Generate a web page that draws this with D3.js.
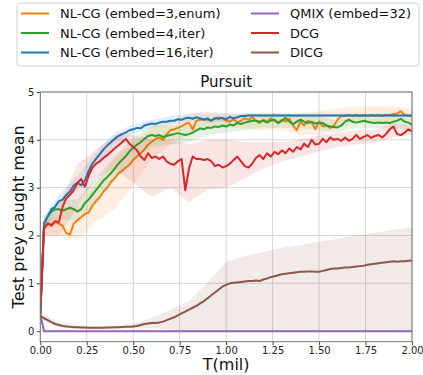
<!DOCTYPE html>
<html><head><meta charset="utf-8">
<script src="https://cdn.jsdelivr.net/npm/d3@7"></script>
<style>
body{margin:0;background:#fff}
svg{display:block;font-family:"DejaVu Sans",sans-serif}
</style>
</head><body><div id="chart"></div>
<script>
// x positions of the main curves (every 0.02 mil steps)
var T = d3.range(0, 101).map(function(i){ return i/50; });

var nlcg3 = [
  0.35,2.15,2.25,2.2,2.28,2.25,2.2,2.05,2.02,2.25,
  2.32,2.38,2.45,2.48,2.62,2.72,2.8,2.92,3.0,3.12,
  3.2,3.3,3.35,3.42,3.48,3.58,3.65,3.72,3.8,3.9,
  3.96,4.02,4.05,4.0,4.12,4.2,4.22,4.25,4.28,4.33,
  4.36,4.22,4.4,4.42,4.43,4.42,4.4,4.45,4.47,4.45,
  4.4,4.38,4.43,4.36,4.4,4.45,4.42,4.47,4.4,4.35,
  4.42,4.38,4.45,4.4,4.36,4.42,4.38,4.44,4.3,4.2,
  4.38,4.3,4.4,4.36,4.22,4.38,4.28,4.3,4.25,4.3,
  4.42,4.5,4.5,4.52,4.5,4.52,4.5,4.52,4.5,4.52,
  4.5,4.52,4.5,4.52,4.52,4.54,4.55,4.6,4.52,4.5,
  4.5];
var nlcg4 = [
  0.35,2.25,2.4,2.5,2.55,2.55,2.52,2.55,2.58,2.55,
  2.5,2.55,2.68,2.75,2.85,2.95,3.05,3.15,3.22,3.3,
  3.4,3.5,3.58,3.66,3.76,3.84,3.9,3.95,4.02,4.08,
  4.1,4.08,4.1,4.06,4.08,4.1,4.12,4.14,4.12,4.1,
  4.12,4.15,4.2,4.24,4.22,4.26,4.25,4.28,4.27,4.3,
  4.28,4.32,4.3,4.35,4.33,4.36,4.38,4.4,4.4,4.38,
  4.4,4.36,4.4,4.42,4.35,4.4,4.46,4.38,4.33,4.38,
  4.42,4.38,4.35,4.38,4.34,4.36,4.35,4.3,4.28,4.27,
  4.26,4.3,4.38,4.42,4.38,4.36,4.38,4.4,4.38,4.36,
  4.35,4.36,4.35,4.36,4.35,4.38,4.4,4.44,4.38,4.36,
  4.32];
var nlcg16 = [
  0.35,2.25,2.4,2.55,2.6,2.72,2.75,2.85,2.92,3.05,
  3.1,3.05,3.15,3.35,3.5,3.6,3.7,3.8,3.88,3.95,
  4.02,4.08,4.12,4.15,4.2,4.22,4.25,4.24,4.3,4.32,
  4.34,4.33,4.36,4.38,4.38,4.4,4.4,4.43,4.42,4.45,
  4.46,4.44,4.47,4.45,4.42,4.45,4.4,4.45,4.44,4.46,
  4.43,4.48,4.45,4.47,4.5,4.5,4.51,4.51,4.51,4.51,
  4.51,4.51,4.51,4.51,4.51,4.51,4.51,4.51,4.51,4.51,
  4.51,4.51,4.51,4.51,4.51,4.51,4.51,4.51,4.51,4.51,
  4.51,4.51,4.51,4.51,4.51,4.51,4.51,4.51,4.51,4.51,
  4.51,4.51,4.51,4.51,4.51,4.51,4.51,4.51,4.51,4.51,
  4.51];
var dcg = [
  0.35,2.15,2.25,2.22,2.3,2.28,2.6,2.78,2.85,2.95,
  3.1,3.18,3.02,3.25,3.42,3.5,3.55,3.62,3.68,3.75,
  3.82,3.88,3.95,4.02,3.92,3.85,3.78,3.65,3.58,3.72,
  3.62,3.65,3.6,3.65,3.55,3.5,3.48,3.55,3.6,2.95,
  3.4,3.65,3.6,3.6,3.58,3.6,3.55,3.45,3.48,3.42,
  3.45,3.5,3.58,3.65,3.55,3.45,3.42,3.5,3.62,3.68,
  3.6,3.72,3.65,3.75,3.7,3.78,3.72,3.82,3.75,3.85,
  3.8,3.92,3.85,4.0,3.9,3.92,4.02,3.95,4.05,4.0,
  4.02,3.98,4.05,3.98,4.02,4.1,4.02,4.06,4.1,4.04,
  4.08,4.1,4.05,4.12,4.22,4.28,4.12,4.1,4.15,4.22,
  4.18];
var dicg = [
  0.32,0.27,0.23,0.19,0.15,0.13,0.11,0.1,0.09,0.08,
  0.08,0.075,0.075,0.07,0.07,0.07,0.07,0.07,0.075,0.075,
  0.08,0.08,0.085,0.09,0.09,0.1,0.11,0.13,0.15,0.16,
  0.17,0.17,0.18,0.2,0.23,0.26,0.29,0.33,0.37,0.41,
  0.45,0.49,0.53,0.58,0.63,0.69,0.75,0.81,0.87,0.93,
  0.97,1.0,1.01,1.02,1.03,1.04,1.05,1.05,1.06,1.05,
  1.08,1.1,1.13,1.15,1.17,1.19,1.2,1.21,1.22,1.23,
  1.24,1.24,1.25,1.25,1.24,1.24,1.26,1.28,1.3,1.31,
  1.31,1.32,1.33,1.33,1.34,1.35,1.36,1.37,1.39,1.4,
  1.41,1.42,1.43,1.44,1.45,1.46,1.45,1.46,1.46,1.47,
  1.48];
// QMIX collapses to zero right away: [T, value]
var qmix = [[0,0.35],[0.02,0],[2,0]];

// shaded spread, read at coarser points
var bandT = [0,0.02,0.1,0.2,0.3,0.4,0.5,0.6,0.7,0.8,0.9,1.0,1.1,1.2,1.3,1.4,1.5,1.6,1.7,1.8,1.9,2.0];
var nlcg3Lo  = [0.3,2.0,2.0,1.9,2.3,2.55,3.05,3.6,3.9,4.1,4.25,4.25,4.25,4.2,4.2,4.1,4.1,4.25,4.35,4.35,4.4,4.35];
var nlcg3Hi  = [0.4,2.3,2.45,2.6,3.1,3.6,3.95,4.25,4.4,4.55,4.6,4.55,4.55,4.55,4.55,4.55,4.6,4.65,4.7,4.7,4.7,4.65];
var nlcg4Lo  = [0.3,2.1,2.35,2.3,2.7,3.15,3.55,3.85,3.9,3.95,4.1,4.15,4.2,4.25,4.25,4.25,4.2,4.15,4.25,4.25,4.25,4.2];
var nlcg4Hi  = [0.4,2.4,2.75,2.75,3.2,3.65,4.05,4.3,4.3,4.3,4.4,4.45,4.55,4.55,4.55,4.5,4.5,4.4,4.5,4.45,4.5,4.45];
var nlcg16Lo = [0.3,2.1,2.6,2.95,3.45,3.9,4.12,4.25,4.32,4.38,4.36,4.38,4.46,4.47,4.47,4.47,4.47,4.47,4.47,4.47,4.47,4.47];
var nlcg16Hi = [0.4,2.4,2.85,3.25,3.75,4.15,4.32,4.42,4.5,4.55,4.55,4.55,4.55,4.55,4.55,4.55,4.55,4.55,4.55,4.55,4.55,4.55];
var dcgLo    = [0.3,2.0,2.0,2.6,3.2,3.4,3.1,2.8,3.0,2.7,2.95,3.0,3.2,3.4,3.55,3.65,3.75,3.85,3.9,3.95,4.05,4.1];
var dcgHi    = [0.4,2.3,2.6,3.5,3.8,4.1,4.1,4.0,4.0,3.9,4.0,4.0,3.95,3.95,3.95,4.0,4.1,4.15,4.2,4.2,4.35,4.3];
var dicgLo   = [0.25,0.2,0.09,0.05,0.04,0.04,0.06,0.06,0.03,0,0,0,0,0,0,0,0,0,0,0,0,0];
var dicgHi   = [0.4,0.35,0.18,0.12,0.1,0.11,0.15,0.28,0.45,0.62,1.02,1.45,1.57,1.65,1.75,1.8,1.87,1.93,2.0,2.06,2.12,2.17];

var xTicks = [0,0.25,0.5,0.75,1.0,1.25,1.5,1.75,2.0];
var yTicks = [0,1,2,3,4,5];

var series = [
  {name:'NL-CG (embed=3,enum)', color:'#ff7f0e', y:nlcg3,  lo:nlcg3Lo,  hi:nlcg3Hi},
  {name:'NL-CG (embed=4,iter)', color:'#2ca02c', y:nlcg4,  lo:nlcg4Lo,  hi:nlcg4Hi},
  {name:'NL-CG (embed=16,iter)',color:'#1f77b4', y:nlcg16, lo:nlcg16Lo, hi:nlcg16Hi},
  {name:'QMIX (embed=32)',      color:'#9467bd', pts:qmix},
  {name:'DCG',                  color:'#d62728', y:dcg,    lo:dcgLo,    hi:dcgHi},
  {name:'DICG',                 color:'#8c564b', y:dicg,   lo:dicgLo,   hi:dicgHi}
];

var W = 423, H = 375;
var L = 40.3, R = 412, TOP = 92, BOT = 341.7;
var svg = d3.select('#chart').append('svg').attr('width',W).attr('height',H);

var x = d3.scaleLinear().domain([0,2]).range([L,R]);
var y = d3.scaleLinear().domain([-0.22,5]).range([BOT,TOP]);

svg.append('defs').append('clipPath').attr('id','clip')
  .append('rect').attr('x',L).attr('y',TOP).attr('width',R-L).attr('height',BOT-TOP);

// grid
var grid = svg.append('g');
grid.selectAll('line.gx').data(xTicks).join('line').attr('class','gx')
  .attr('x1',function(d){ return x(d); }).attr('x2',function(d){ return x(d); })
  .attr('y1',TOP).attr('y2',BOT).attr('stroke','#d6d6d6').attr('stroke-width',1);
grid.selectAll('line.gy').data(yTicks).join('line').attr('class','gy')
  .attr('x1',L).attr('x2',R)
  .attr('y1',function(d){ return y(d); }).attr('y2',function(d){ return y(d); })
  .attr('stroke','#d6d6d6').attr('stroke-width',1);

var plot = svg.append('g').attr('clip-path','url(#clip)');
var area = d3.area().x(function(d){ return x(d[0]); }).y0(function(d){ return y(d[1]); }).y1(function(d){ return y(d[2]); });
var line = d3.line().x(function(d){ return x(d[0]); }).y(function(d){ return y(d[1]); });

series.forEach(function(s){
  if(s.lo){
    var b = bandT.map(function(t,i){ return [t, s.lo[i], s.hi[i]]; });
    plot.append('path').attr('d',area(b)).attr('fill',s.color).attr('fill-opacity',0.12).attr('stroke','none');
  }
  var pts = s.pts || T.map(function(t,i){ return [t, s.y[i]]; });
  plot.append('path').attr('d',line(pts)).attr('fill','none')
    .attr('stroke',s.color).attr('stroke-width',2).attr('stroke-linejoin','round');
});

// axes
var xAxis = svg.append('g').attr('transform','translate(0,'+BOT+')')
  .call(d3.axisBottom(x).tickValues(xTicks).tickFormat(d3.format('.2f')).tickSize(3.5).tickPadding(1.5));
var yAxis = svg.append('g').attr('transform','translate('+L+',0)')
  .call(d3.axisLeft(y).tickValues(yTicks).tickFormat(d3.format('d')).tickSize(3.5).tickPadding(2.5));
[xAxis,yAxis].forEach(function(a){
  a.select('.domain').remove();
  a.selectAll('.tick line').attr('stroke','#444');
  a.selectAll('.tick text').attr('fill','#222').attr('font-size','10px').attr('font-family','"DejaVu Sans",sans-serif');
});
svg.append('rect').attr('x',L).attr('y',TOP).attr('width',R-L).attr('height',BOT-TOP)
  .attr('fill','none').attr('stroke','#777').attr('stroke-width',1);

// labels
svg.append('text').attr('x',(L+R)/2).attr('y',87).attr('text-anchor','middle')
  .attr('font-size','15px').attr('fill','#111').text('Pursuit');
svg.append('text').attr('x',(L+R)/2).attr('y',370).attr('text-anchor','middle')
  .attr('font-size','16px').attr('fill','#111').text('T(mil)');
svg.append('text').attr('transform','translate(24,'+((TOP+BOT)/2)+') rotate(-90)')
  .attr('text-anchor','middle').attr('font-size','16px').attr('fill','#111').text('Test prey caught mean');

// legend
var lg = svg.append('g');
lg.append('rect').attr('x',17).attr('y',3).attr('width',402).attr('height',63).attr('rx',3)
  .attr('fill','#fff').attr('fill-opacity',0.8).attr('stroke','#d0d0d0');
var cols = [21, 251];
series.forEach(function(s,i){
  var c = Math.floor(i/3), r = i%3;
  var cy = 13.5 + r*19.5;
  lg.append('line').attr('x1',cols[c]).attr('x2',cols[c]+28).attr('y1',cy).attr('y2',cy)
    .attr('stroke',s.color).attr('stroke-width',2);
  lg.append('text').attr('x',cols[c]+39).attr('y',cy).attr('dy','0.35em')
    .attr('font-size','13px').attr('fill','#111').text(s.name);
});
</script>
</body></html>
